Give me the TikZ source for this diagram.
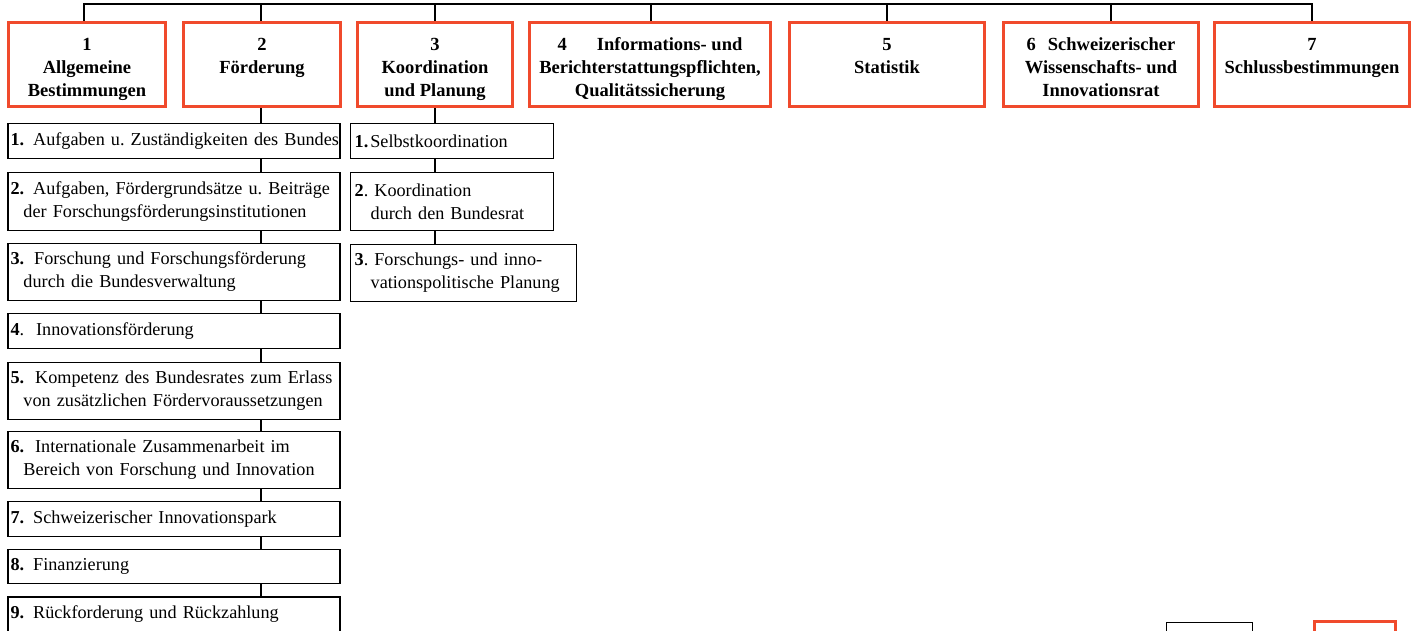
\documentclass[tikz,border=0pt]{standalone}
\usepackage{fontspec}
\setmainfont{Liberation Serif}
\frenchspacing
\definecolor{hred}{RGB}{240,74,44}
\newcommand\htext[2]{\parbox[c][60pt][t]{#1pt}{\centering\bfseries\fontsize{18.5}{23}\selectfont\strut #2}}
\begin{document}
\begin{tikzpicture}[x=1pt,y=-1pt,
  hbox/.style={draw=hred, line width=3pt, inner sep=0pt, minimum height=84pt},
  sbox/.style={draw=black, line width=1.3pt, inner xsep=2.5pt, inner ysep=0pt, align=left,
               font=\fontsize{18.2}{23}\selectfont\frenchspacing},
  cbox/.style={sbox, inner xsep=4pt},
  conn/.style={line width=1.8pt},
  sconn/.style={line width=1.5pt}]

\useasboundingbox (0,0) rectangle (1419,630);

% header boxes
\node[hbox, minimum width=157pt] (h1) at (87,64.5) {\htext{150}{1\\Allgemeine\\Bestimmungen}};
\node[hbox, minimum width=157pt] (h2) at (262,64.5) {\htext{150}{2\\Förderung}};
\node[hbox, minimum width=155pt] (h3) at (435,64.5) {\htext{150}{3\\Koordination\\und Planung}};
\node[hbox, minimum width=241pt] (h4) at (650,64.5) {\htext{236}{4\hspace{30pt}Informations- und\\Berichterstattungspflichten,\\Qualitätssicherung}};
\node[hbox, minimum width=195pt] (h5) at (887,64.5) {\htext{190}{5\\Statistik}};
\node[hbox, minimum width=195pt] (h6) at (1101,64.5) {\htext{190}{6\hspace{12pt}Schweizerischer\\Wissenschafts- und\\Innovationsrat}};
\node[hbox, minimum width=195pt] (h7) at (1312,64.5) {\htext{190}{7\\Schlussbestimmungen}};

% top connector
\coordinate (t1) at (84,4);
\coordinate (t2) at (261,4);
\coordinate (t3) at (435,4);
\coordinate (t4) at (651,4);
\coordinate (t5) at (887,4);
\coordinate (t6) at (1111,4);
\coordinate (t7) at (1312,4);
\draw[conn] (t1 |- h1.north) -- (t1) -- (t7) -- (t7 |- h7.north);
\foreach \i in {2,...,6} { \draw[conn] (t\i) -- (t\i |- h\i.north); }

% column 2
\node[sbox, text width=327pt, minimum height=35pt] (s1) at (174,141)
  {\mbox{\textbf{1.}\hspace{9pt}Aufgaben u. Zuständigkeiten des Bundes}};
\node[sbox, text width=327pt, minimum height=57.5pt] (s2) at (174,201.5)
  {\mbox{\textbf{2.}\hspace{9pt}Aufgaben, Fördergrundsätze u. Beiträge}\\\mbox{\hspace*{13pt}der Forschungsförderungsinstitutionen}};
\node[sbox, text width=327pt, minimum height=57pt] (s3) at (174,272)
  {\mbox{\textbf{3.}\hspace{10pt}Forschung und Forschungsförderung}\\\mbox{\hspace*{13pt}durch die Bundesverwaltung}};
\node[sbox, text width=327pt, minimum height=35pt] (s4) at (174,331)
  {\mbox{\textbf{4}.\hspace{12pt}Innovationsförderung}};
\node[sbox, text width=327pt, minimum height=57pt] (s5) at (174,391)
  {\mbox{\textbf{5.}\hspace{11pt}Kompetenz des Bundesrates zum Erlass}\\\mbox{\hspace*{13pt}von zusätzlichen Fördervoraussetzungen}};
\node[sbox, text width=327pt, minimum height=57pt] (s6) at (174,460)
  {\mbox{\textbf{6.}\hspace{11pt}Internationale Zusammenarbeit im}\\\mbox{\hspace*{13pt}Bereich von Forschung und Innovation}};
\node[sbox, text width=327pt, minimum height=35pt] (s7) at (174,519)
  {\mbox{\textbf{7.}\hspace{9pt}Schweizerischer Innovationspark}};
\node[sbox, text width=327pt, minimum height=34pt] (s8) at (174,566.5)
  {\mbox{\textbf{8.}\hspace{9pt}Finanzierung}};
\node[sbox, text width=327pt, minimum height=35pt] (s9) at (174,614.5)
  {\mbox{\textbf{9.}\hspace{9pt}Rückforderung und Rückzahlung}};

\draw[conn] (t2 |- h2.south) -- (t2 |- s1.north);
\draw[sconn] (t2 |- s1.south) -- (t2 |- s2.north);
\draw[sconn] (t2 |- s2.south) -- (t2 |- s3.north);
\draw[sconn] (t2 |- s3.south) -- (t2 |- s4.north);
\draw[sconn] (t2 |- s4.south) -- (t2 |- s5.north);
\draw[sconn] (t2 |- s5.south) -- (t2 |- s6.north);
\draw[sconn] (t2 |- s6.south) -- (t2 |- s7.north);
\draw[sconn] (t2 |- s7.south) -- (t2 |- s8.north);
\draw[sconn] (t2 |- s8.south) -- (t2 |- s9.north);

% column 3
\node[cbox, text width=194.7pt, minimum height=35pt] (c1) at (452,141)
  {\mbox{\textbf{1.}\hspace{2pt}Selbstkoordination}};
\node[cbox, text width=194.7pt, minimum height=57.5pt] (c2) at (452,201.5)
  {\mbox{\textbf{2}. Koordination}\\\mbox{\hspace*{16pt}durch den Bundesrat}};
\node[cbox, text width=217.7pt, minimum height=57pt] (c3) at (463.5,273)
  {\mbox{\textbf{3}. Forschungs- und inno-}\\\mbox{\hspace*{16pt}vationspolitische Planung}};

\draw[conn] (t3 |- h3.south) -- (t3 |- c1.north);
\draw[sconn] (t3 |- c1.south) -- (t3 |- c2.north);
\draw[sconn] (t3 |- c2.south) -- (t3 |- c3.north);

% legend boxes (cut off at the bottom)
\node[draw=black, line width=1.3pt, minimum width=85.5pt, minimum height=30pt, inner sep=0pt] (lg1) at (1209.5,637.5) {};
\node[hbox, minimum width=81pt, minimum height=30pt] (lg2) at (1355,636.5) {};

\end{tikzpicture}
\end{document}
